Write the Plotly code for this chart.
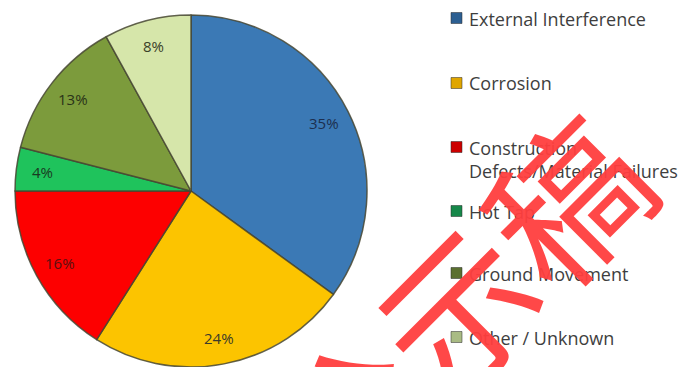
import math
import plotly.graph_objects as go

# Causes of pipeline incidents
labels = [
    "External Interference",
    "Corrosion",
    "Construction<br>Defects/Material Failures",
    "Hot Tap",
    "Ground Movement",
    "Other / Unknown",
]
shares = [35, 24, 16, 4, 13, 8]
slice_colors = ["#3b79b5", "#fcc400", "#fd0000", "#1fc35c", "#7c9b3c", "#d6e6aa"]
key_colors = ["#2c5f92", "#e0a600", "#cc0000", "#16884a", "#5b7030", "#a9bb84"]
text_colors = ["#1c2f4f", "#3a3a2a", "#5a1010", "#1a3a22", "#2a3318", "#3a4028"]

W, H = 684, 367
cx, cy, r = 191, 191, 176

fig = go.Figure()
fig.add_trace(go.Pie(
    labels=labels,
    values=shares,
    sort=False,
    direction="clockwise",
    rotation=0,
    marker=dict(colors=slice_colors, line=dict(color="rgba(70,70,50,0.85)", width=1.5)),
    textinfo="none",
    domain=dict(x=[(cx - r) / W, (cx + r) / W], y=[1 - (cy + r) / H, 1 - (cy - r) / H]),
    showlegend=False,
    hoverinfo="label+percent",
))

annotations = []

# Percentage labels placed near the rim, at each slice's mid-angle
total = sum(shares)
cum = 0
for v, tc in zip(shares, text_colors):
    mid = (cum + v / 2) / total * 2 * math.pi
    cum += v
    rr = 0.85 * r
    px = cx + rr * math.sin(mid)
    py = cy - rr * math.cos(mid)
    annotations.append(dict(
        xref="paper", yref="paper", x=px / W, y=1 - py / H,
        xanchor="center", yanchor="middle", showarrow=False,
        text=f"{v}%", font=dict(family="Open Sans", size=15, color=tc),
    ))

# Legend on the right: coloured key squares with labels
key_x, text_x = 451, 467
row_y = [18, 83, 147, 211, 273, 337]
shapes = []
for lab, col, y in zip(labels, key_colors, row_y):
    shapes.append(dict(
        type="rect", xref="paper", yref="paper",
        x0=key_x / W, x1=(key_x + 11) / W,
        y0=1 - (y + 5.5) / H, y1=1 - (y - 5.5) / H,
        fillcolor=col, line=dict(color="rgba(40,40,40,0.5)", width=1),
    ))
    annotations.append(dict(
        xref="paper", yref="paper", x=text_x / W, y=1 - (y - 13.5) / H,
        xanchor="left", yanchor="top", align="left",
        text=lab, showarrow=False,
        font=dict(family="Open Sans", size=18, color="#3e3e3e"),
    ))

# Red stamp across the legend
annotations.append(dict(
    xref="paper", yref="paper", x=453 / W, y=1 - 305 / H,
    xanchor="center", yanchor="middle",
    text="公示稿", showarrow=False, textangle=-45,
    font=dict(family="Noto Sans CJK SC", size=155, weight=400, color="rgba(255,62,62,0.95)"),
))

fig.update_layout(
    width=W, height=H,
    margin=dict(l=0, r=0, t=0, b=0),
    paper_bgcolor="white",
    plot_bgcolor="white",
    shapes=shapes,
    annotations=annotations,
)

fig.write_html("out.html")
